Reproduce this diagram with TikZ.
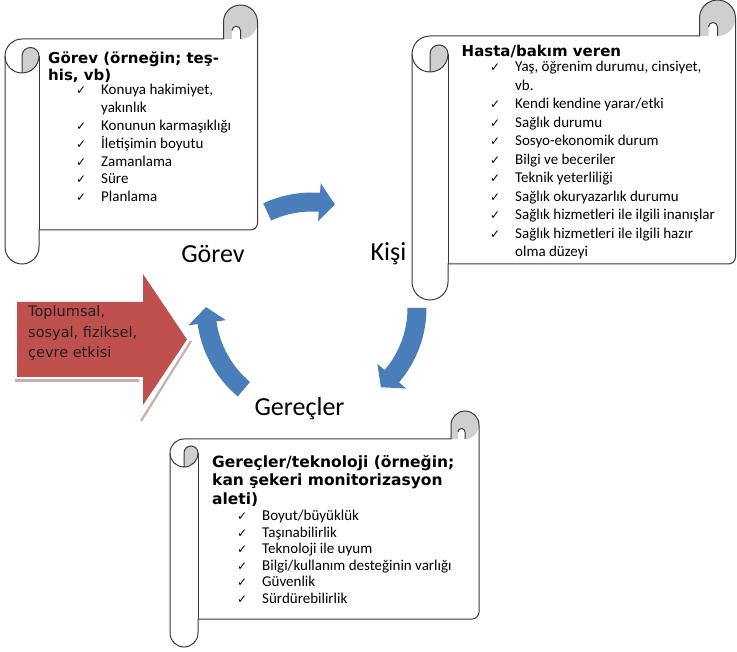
\documentclass[tikz,border=0pt]{standalone}
\usepackage{fontspec}
\setmainfont{Carlito}
\newfontfamily\headfont{DejaVu Sans}
\usetikzlibrary{calc}
\definecolor{scrollline}{HTML}{3A3A3A}
\definecolor{rollgrey}{HTML}{CFCFCF}
\definecolor{cycleblue}{HTML}{4A7EBB}
\definecolor{impactred}{HTML}{C0504D}
\definecolor{impactshadow}{HTML}{C8AEAE}
\definecolor{impacttext}{HTML}{202020}

\def\chk{\makebox[25pt][l]{{\headfont\fontsize{12}{12}\selectfont ✓}}}
\def\cont{\hspace*{25pt}}

\begin{document}
\begin{tikzpicture}[x=1pt, y=-1pt]
    \tikzstyle{roll_line} = [draw=scrollline, line width=1pt]
    \tikzstyle{head_style} = [anchor=north west, inner sep=0pt, align=left, font=\headfont\bfseries\fontsize{15}{16.5}\selectfont]
    \tikzstyle{list_style} = [anchor=north west, inner sep=0pt, align=left, font=\fontsize{15}{18.5}\selectfont]
    \tikzstyle{cycle_label} = [anchor=base, inner sep=0pt, font=\fontsize{26}{30}\selectfont]

    \useasboundingbox (0,0) rectangle (737,652);

    % left, top, right, bottom, roll size
    \def\vscroll#1#2#3#4#5{%
      \fill[rollgrey] (#3-#5/2, #2+#5/2) circle[radius=#5/2];
      \fill[rollgrey] (#3-#5, #2+#5/2) rectangle (#3-#5/2, #2+#5);
      \fill[white] (#3-#5*3/4, #2+#5*3/4) arc[start angle=180, end angle=360, radius=#5/8] -- (#3-#5/2, #2+#5) -- (#3-#5*3/4, #2+#5) -- cycle;
      \fill[rollgrey] (#1+#5/2, #2+#5*3/2) -- (#1+#5/2, #2+#5*2) arc[start angle=90, end angle=0, radius=#5/2] arc[start angle=0, end angle=-180, radius=#5/4] -- cycle;
      \draw[roll_line] (#1, #2+#5*3/2) arc[start angle=180, end angle=270, radius=#5/2] -- (#3-#5, #2+#5) -- (#3-#5, #2+#5/2) arc[start angle=180, end angle=360, radius=#5/2] -- (#3, #4-#5-7) arc[start angle=0, end angle=90, radius=7] -- (#1+#5, #4-#5) -- (#1+#5, #4-#5/2) arc[start angle=0, end angle=180, radius=#5/2] -- cycle;
      \draw[roll_line] (#1+#5, #2+#5*3/2) -- (#1+#5, #4-#5);
      \draw[roll_line] (#1, #2+#5*3/2) arc[start angle=180, end angle=0, radius=#5/2] arc[start angle=0, end angle=-180, radius=#5/4] -- (#1+#5/2, #2+#5*2);
      \draw[roll_line] (#3-#5/2, #2+#5) -- (#3-#5/2, #2+#5*3/4) arc[start angle=0, end angle=-180, radius=#5/8];
    }

    % outside impact
    \draw[impactshadow, line width=2.2pt] (15, 380.5) -- (139, 380.5);
    \draw[impactshadow, line width=2.2pt] (141, 421) -- (191, 341);
    \fill[impactred] (17, 302) -- (143, 302) -- (143, 274) -- (187, 339.5) -- (143, 405) -- (143, 377) -- (17, 377) -- cycle;
    \node[anchor=north west, inner sep=0pt, align=left, text=impacttext, font=\headfont\fontsize{14.5}{20.3}\selectfont] (impact) at (28, 305.7) {Toplumsal,\\sosyal, fiziksel,\\çevre etkisi};

    % cycle arrows
    \begin{scope}[shift={(312,308)}]
      \foreach \ra/\rb/\rr in {-115/-86/106, 0/40.5/105, 130/172/106}
        \fill[cycleblue] ({\ra}:{\rr+9.5}) arc[start angle=\ra, end angle=\rb, radius=\rr+9.5] -- ({\rb}:{\rr+19}) -- ({\rb+8.5}:{\rr}) -- ({\rb}:{\rr-19}) -- ({\rb}:{\rr-9.5}) arc[start angle=\rb, end angle=\ra, radius=\rr-9.5] -- cycle;
    \end{scope}

    % scrolls
    \vscroll{5}{5}{257.5}{264}{34}
    \vscroll{412}{0}{735.5}{300}{36}
    \vscroll{170}{411}{479}{647}{28}

    \node[head_style] (taskhead) at (48, 51.6) {Görev (örneğin; teş-\\his, vb)};
    \node[list_style, font=\fontsize{15}{17.8}\selectfont] (tasklist) at (76, 84.3) {\chk Konuya hakimiyet,\\\cont yakınlık\\\chk Konunun karmaşıklığı\\\chk İletişimin boyutu\\\chk Zamanlama\\\chk Süre\\\chk Planlama};

    \node[head_style] (personhead) at (461.5, 44.6) {Hasta/bakım veren};
    \node[list_style] (personlist) at (490, 61) {\chk Yaş, öğrenim durumu, cinsiyet,\\\cont vb.\\\chk Kendi kendine yarar/etki\\\chk Sağlık durumu\\\chk Sosyo-ekonomik durum\\\chk Bilgi ve beceriler\\\chk Teknik yeterliliği\\\chk Sağlık okuryazarlık durumu\\\chk Sağlık hizmetleri ile ilgili inanışlar\\\chk Sağlık hizmetleri ile ilgili hazır\\\cont olma düzeyi};

    \node[head_style, font=\headfont\bfseries\fontsize{15.5}{18.3}\selectfont] (toolhead) at (212, 455.3) {Gereçler/teknoloji (örneğin;\\kan şekeri monitorizasyon\\aleti)};
    \node[list_style, font=\fontsize{15}{16.5}\selectfont] (toollist) at (237, 510) {\chk Boyut/büyüklük\\\chk Taşınabilirlik\\\chk Teknoloji ile uyum\\\chk Bilgi/kullanım desteğinin varlığı\\\chk Güvenlik\\\chk Sürdürebilirlik};

    \node[cycle_label] (tasklabel) at (213, 263) {Görev};
    \node[cycle_label] (personlabel) at (388.5, 261) {Kişi};
    \node[cycle_label] (toollabel) at (299.5, 416) {Gereçler};
\end{tikzpicture}
\end{document}
